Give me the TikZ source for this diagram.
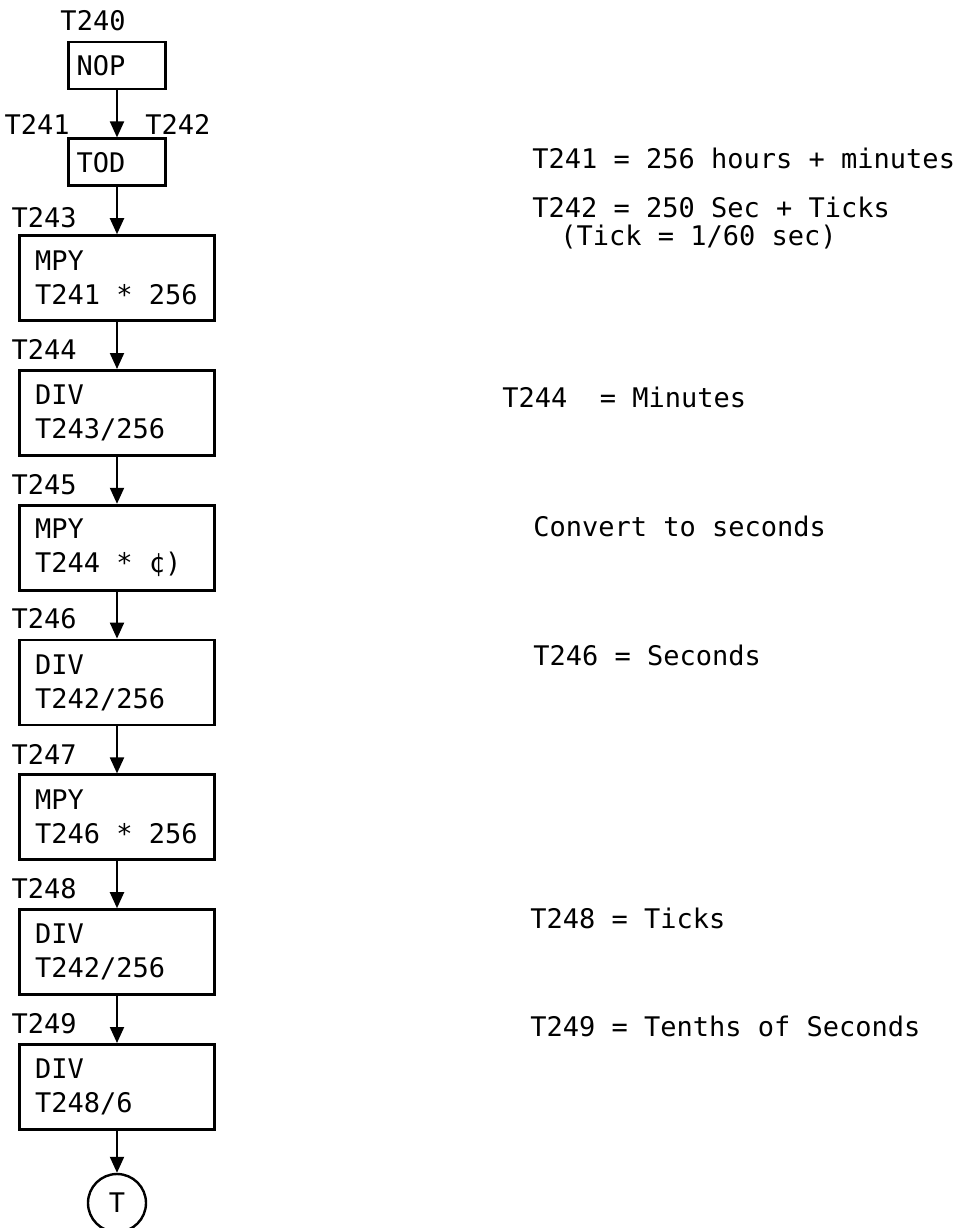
\documentclass[tikz,border=0pt]{standalone}
\usepackage{fontspec}
\setmonofont{DejaVu Sans Mono}
\usepackage{tikz}
\usetikzlibrary{shapes, arrows.meta, positioning}

\begin{document}
\begin{tikzpicture}[
    x=0.5pt, y=-0.5pt,
    node distance=23.5pt,
    every node/.style={font=\ttfamily\fontsize{13.5}{17}\selectfont},
    op/.style={rectangle, draw, line width=1.4pt, text width=82pt, inner xsep=7.75pt, align=flush left, minimum height=42.5pt},
    smallop/.style={rectangle, draw, line width=1.4pt, text width=40.5pt, inner xsep=4pt, align=flush left, minimum height=23.5pt},
    endcircle/.style={circle, draw, line width=1.2pt, minimum size=29pt, inner sep=0pt},
    tag/.style={inner sep=0pt},
    note/.style={anchor=base west, inner sep=0pt},
    arrow/.style={-{Triangle[length=8pt, width=7pt]}, line width=1pt}
]
\useasboundingbox (0,0) rectangle (968,1228);

% flow of operations
\node[smallop] (nop) at (117,65.5) {NOP};
\node[smallop, below=of nop] (tod) {TOD};
\node[op, below=of tod] (mpya) {MPY\\T241 * 256};
\node[op, below=of mpya] (diva) {DIV\\T243/256};
\node[op, below=of diva] (mpyb) {MPY\\T244 * ¢)};
\node[op, below=of mpyb] (divb) {DIV\\T242/256};
\node[op, below=of divb] (mpyc) {MPY\\T246 * 256};
\node[op, below=of mpyc] (divc) {DIV\\T242/256};
\node[op, below=of divc] (divd) {DIV\\T248/6};
\node[endcircle, below=21pt of divd] (done) {T};

% temporaries
\node[tag, above right=4.5pt and -3.5pt of nop.north west] (t240) {T240};
\node[tag, above left=1.5pt and -1.5pt of tod.north west] (t241) {T241};
\node[tag, above right=1.5pt and 14pt of tod.north] (t242) {T242};
\node[tag, above right=3pt and -3.5pt of mpya.north west] (t243) {T243};
\node[tag, above right=4.5pt and -3.5pt of diva.north west] (t244) {T244};
\node[tag, above right=4.5pt and -3.5pt of mpyb.north west] (t245) {T245};
\node[tag, above right=4.5pt and -3.5pt of divb.north west] (t246) {T246};
\node[tag, above right=4.5pt and -3.5pt of mpyc.north west] (t247) {T247};
\node[tag, above right=4.5pt and -3.5pt of divc.north west] (t248) {T248};
\node[tag, above right=4.5pt and -3.5pt of divd.north west] (t249) {T249};

\draw[arrow] (nop) -- (tod);
\draw[arrow] (tod) -- (mpya);
\draw[arrow] (mpya) -- (diva);
\draw[arrow] (diva) -- (mpyb);
\draw[arrow] (mpyb) -- (divb);
\draw[arrow] (divb) -- (mpyc);
\draw[arrow] (mpyc) -- (divc);
\draw[arrow] (divc) -- (divd);
\draw[arrow] (divd) -- (done);

% comments on the right
\node[note] (n241) at (532,168) {T241 = 256 hours + minutes};
\node[note] (n242) at (532,217) {T242 = 250 Sec + Ticks};
\node[note] (ntick) at (560,245) {(Tick = 1/60 sec)};
\node[note] (n244) at (502,407) {T244\ \ = Minutes};
\node[note] (nconv) at (533,536) {Convert to seconds};
\node[note] (n246) at (533,665) {T246 = Seconds};
\node[note] (n248) at (530,928) {T248 = Ticks};
\node[note] (n249) at (530,1036) {T249 = Tenths of Seconds};

\end{tikzpicture}
\end{document}
